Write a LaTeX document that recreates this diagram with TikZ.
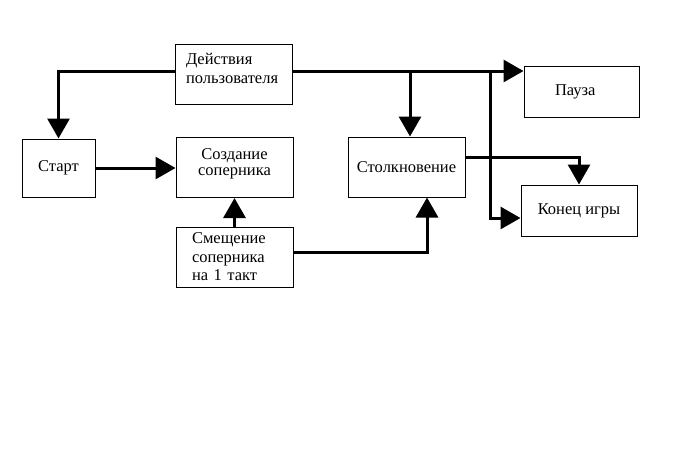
\documentclass[tikz,border=0pt]{standalone}
\usepackage{fontspec}
\setmainfont{Liberation Serif}
\usetikzlibrary{positioning,arrows.meta,calc}

\begin{document}
\begin{tikzpicture}[x=1pt,y=-1pt,>={Triangle[length=20pt,width=22pt]},
  line width=3pt,font=\fontsize{16.5}{19}\selectfont]

  \tikzset{
    blk/.style={draw,line width=1pt,minimum width=117pt,minimum height=60pt,inner sep=0pt},
    small/.style={minimum height=51pt},
  }

  \useasboundingbox (0,0) rectangle (679,474);

  \node[blk] (act)    at (233.5,74)  [align=left,text width=95pt] {Действия\\пользователя\rule[-12pt]{0pt}{12pt}};
  \node[blk] (start)  at (58.5,168)  [minimum width=73pt,minimum height=58pt] {Старт};
  \node[blk] (create) at (234.5,167.5) [align=center,font=\fontsize{16.5}{16}\selectfont] {Создание\\соперника\rule[-10pt]{0pt}{10pt}};
  \node[blk] (coll)   at (406.5,167) {Столкновение};
  \node[blk] (shift)  at (234.5,257) [align=left,text width=85pt,font=\fontsize{16.5}{18.5}\selectfont] {Смещение\\ соперника\\на 1 такт};
  \node[blk,small] (pause) at (581.5,91.5) [minimum width=115pt,align=left,text width=53pt] {Пауза};
  \node[blk,small] (end)   at (579,210.5)  [minimum width=116pt] {Конец игры};

  \coordinate (bus)   at ($(act.east)+(0,-3)$);
  \coordinate (left)  at ($(act.west)+(0,-3)$);
  \coordinate (split) at (490,0);
  \coordinate (collin) at ($(coll.north)+(3.5,0)$);
  \coordinate (collup) at ($(coll.south)+(20.5,0)$);
  \coordinate (endin)  at ($(end.west)+(0,7.5)$);

  % user actions
  \draw[->] (left) -| (start.north);
  \draw[->] (bus) -- (bus -| pause.west);
  \draw[->] (bus -| collin) -- (collin);
  \draw[->] (bus -| split) |- (endin);

  \draw[->] (start.east) -- (start.east -| create.west);
  \draw[->] (shift.north) -- (create.south);
  \draw[->] ($(shift.east)+(0,-5)$) -| (collup);
  \draw[->] ($(coll.east)+(0,-10)$) -| (end.north);
\end{tikzpicture}
\end{document}
